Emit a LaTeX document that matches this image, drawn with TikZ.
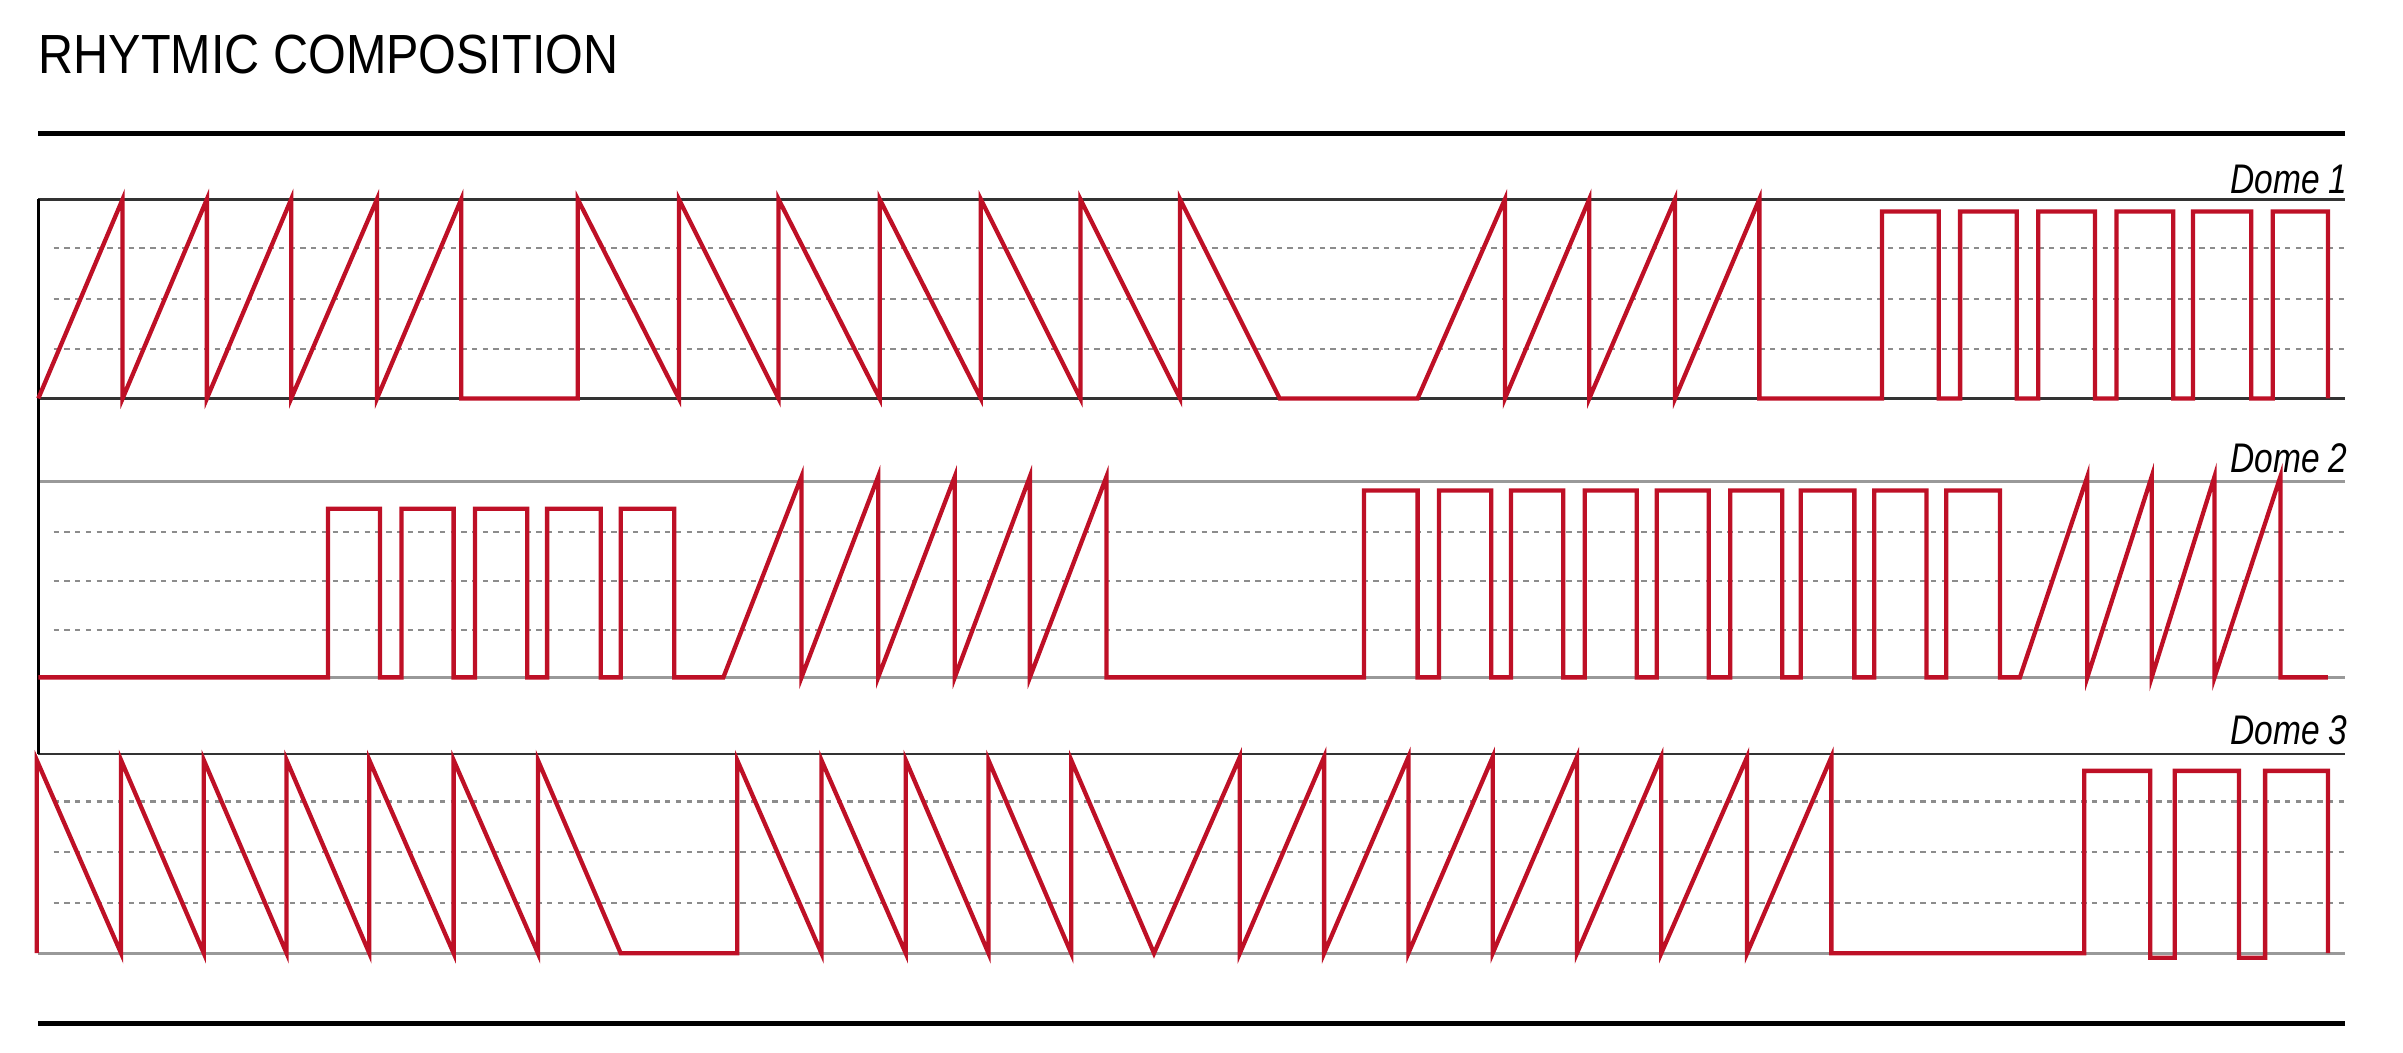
\documentclass[tikz,border=0pt]{standalone}
\usepackage{fontspec}
\setmainfont{Liberation Sans}
\begin{document}
\begin{tikzpicture}[x=1pt,y=-1pt,
  wave/.style={draw={rgb,255:red,190;green,16;blue,38},line width=2.8pt,line join=miter},
  grid/.style={draw=black!45,line width=1.4pt,dash pattern=on 3.5pt off 3.5pt},
  dark/.style={draw=black!80,line width=1.8pt},
  light/.style={draw=black!40,line width=1.8pt},
  rule/.style={draw=black,line width=3.2pt},
  lbl/.style={font=\fontsize{27}{27}\selectfont\itshape,xscale=0.81,inner sep=0pt}]
\useasboundingbox (0,0) rectangle (1568,687);
% title and rules
\node[anchor=base west,inner sep=0pt,font=\fontsize{36}{36}\selectfont,xscale=0.88] (title) at (25,48) {RHYTMIC COMPOSITION};
\draw[rule] (25,87) -- (1530,87);
\draw[rule] (25,668) -- (1530,668);
% grids
\foreach \y in {162,195,228,347,379,411,523,556,589}
  \draw[grid] (35,\y) -- (1530,\y);
\draw[dark] (25,130) -- (1530,130);
\draw[dark] (25,260) -- (1530,260);
\draw[light] (25,314) -- (1530,314);
\draw[light] (25,442) -- (1530,442);
\draw[dark] (25,492) -- (1530,492);
\draw[light] (25,622) -- (1530,622);
\draw[draw=black,line width=1.8pt] (25,130) -- (25,492);
% labels
\node[lbl,anchor=base east] (d1) at (1532,126) {Dome 1};
\node[lbl,anchor=base east] (d2) at (1532,308) {Dome 2};
\node[lbl,anchor=base east] (d3) at (1532,486) {Dome 3};
% row 1
\draw[wave] (25,260) -- (80,130) -- (80,260) -- (135,130) -- (135,260) -- (190,130) -- (190,260)
  -- (246,130) -- (246,260) -- (301,130) -- (301,260) -- (377,260) -- (377,130)
  -- (443,260) -- (443,130) -- (508,260) -- (508,130) -- (574,260) -- (574,130)
  -- (640,260) -- (640,130) -- (705,260) -- (705,130) -- (770,260) -- (770,130)
  -- (835,260) -- (925,260) -- (982,130) -- (982,260) -- (1037,130) -- (1037,260)
  -- (1093,130) -- (1093,260) -- (1148,130) -- (1148,260) -- (1228,260)
  -- (1228,138) -- (1265,138) -- (1265,260) -- (1279,260) -- (1279,138) -- (1316,138)
  -- (1316,260) -- (1330,260) -- (1330,138) -- (1367,138) -- (1367,260) -- (1381,260)
  -- (1381,138) -- (1418,138) -- (1418,260) -- (1431,260) -- (1431,138) -- (1469,138)
  -- (1469,260) -- (1483,260) -- (1483,138) -- (1519,138) -- (1519,260);
% row 2
\draw[wave] (25,442) -- (214,442) -- (214,332) -- (248,332) -- (248,442) -- (262,442)
  -- (262,332) -- (296,332) -- (296,442) -- (310,442) -- (310,332) -- (344,332)
  -- (344,442) -- (357,442) -- (357,332) -- (392,332) -- (392,442) -- (405,442)
  -- (405,332) -- (440,332) -- (440,442) -- (472,442) -- (523,311) -- (523,442)
  -- (573,311) -- (573,442) -- (623,311) -- (623,442) -- (672,311) -- (672,442)
  -- (722,311) -- (722,442) -- (890,442) -- (890,320) -- (925,320) -- (925,442)
  -- (939,442) -- (939,320) -- (973,320) -- (973,442) -- (986,442) -- (986,320)
  -- (1020,320) -- (1020,442) -- (1034,442) -- (1034,320) -- (1068,320) -- (1068,442)
  -- (1081,442) -- (1081,320) -- (1115,320) -- (1115,442) -- (1129,442) -- (1129,320)
  -- (1163,320) -- (1163,442) -- (1175,442) -- (1175,320) -- (1210,320) -- (1210,442)
  -- (1223,442) -- (1223,320) -- (1257,320) -- (1257,442) -- (1270,442) -- (1270,320)
  -- (1305,320) -- (1305,442) -- (1318,442) -- (1362,311) -- (1362,442) -- (1404,311)
  -- (1404,442) -- (1445,311) -- (1445,442) -- (1488,311) -- (1488,442) -- (1519,442);
% row 3
\draw[wave] (24,622) -- (24,496) -- (79,622) -- (79,496) -- (133,622) -- (133,496)
  -- (187,622) -- (187,496) -- (241,622) -- (241,496) -- (296,622) -- (296,496)
  -- (351,622) -- (351,496) -- (405,622) -- (481,622) -- (481,496) -- (536,622)
  -- (536,496) -- (591,622) -- (591,496) -- (645,622) -- (645,496) -- (699,622)
  -- (699,496) -- (753,622) -- (809,494) -- (809,622) -- (864,494) -- (864,622)
  -- (919,494) -- (919,622) -- (974,494) -- (974,622) -- (1029,494) -- (1029,622)
  -- (1084,494) -- (1084,622) -- (1140,494) -- (1140,622) -- (1195,494) -- (1195,622)
  -- (1360,622) -- (1360,503) -- (1403,503) -- (1403,625) -- (1419,625) -- (1419,503)
  -- (1461,503) -- (1461,625) -- (1478,625) -- (1478,503) -- (1519,503) -- (1519,622);
\end{tikzpicture}
\end{document}
